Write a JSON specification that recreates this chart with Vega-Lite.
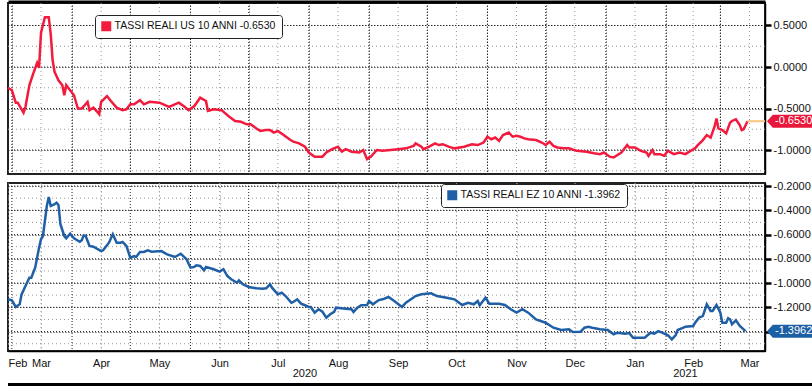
{
  "$schema": "https://vega.github.io/schema/vega-lite/v6.json",
  "padding": {"left": 2, "top": 0, "right": 0, "bottom": 0},
  "spacing": 3,
  "background": "white",
  "resolve": {"scale": {"color": "independent"}, "legend": {"color": "independent"}},
  "config": {
    "font": "Liberation Sans",
    "view": {"stroke": null},
    "axis": {"labelFont": "Liberation Sans", "labelFontSize": 11, "labelColor": "#111"}
  },
  "datasets": {
    "ms": [{"d": "2020-03-01"}, {"d": "2020-04-01"}, {"d": "2020-05-01"}, {"d": "2020-06-01"}, {"d": "2020-07-01"}, {"d": "2020-08-01"}, {"d": "2020-09-01"}, {"d": "2020-10-01"}, {"d": "2020-11-01"}, {"d": "2020-12-01"}, {"d": "2021-01-01"}, {"d": "2021-02-01"}, {"d": "2021-03-01"}],
    "mm": [{"d": "2020-03-16"}, {"d": "2020-04-16"}, {"d": "2020-05-16"}, {"d": "2020-06-16"}, {"d": "2020-07-16"}, {"d": "2020-08-16"}, {"d": "2020-09-16"}, {"d": "2020-10-16"}, {"d": "2020-11-16"}, {"d": "2020-12-16"}, {"d": "2021-01-16"}, {"d": "2021-02-15"}, {"d": "2021-03-16"}],
    "usg": [{"g": 0.5}, {"g": 0}, {"g": -0.5}, {"g": -1}],
    "usm": [{"g": 0.25}, {"g": -0.25}, {"g": -0.75}, {"g": -1.25}],
    "ezg": [{"g": -0.2}, {"g": -0.4}, {"g": -0.6}, {"g": -0.8}, {"g": -1.0}, {"g": -1.2}, {"g": -1.4}],
    "ezm": [{"g": -0.3}, {"g": -0.5}, {"g": -0.7}, {"g": -0.9}, {"g": -1.1}, {"g": -1.3}, {"g": -1.5}],
    "years": [{"date": "2020-07-30", "label": "2020"}, {"date": "2021-02-11", "label": "2021"}],
    "us": [
      {"date": "2020-02-28", "v": -0.25}, {"date": "2020-03-01", "v": -0.28}, {"date": "2020-03-03", "v": -0.43}, {"date": "2020-03-04", "v": -0.43},
      {"date": "2020-03-07", "v": -0.55}, {"date": "2020-03-08", "v": -0.48}, {"date": "2020-03-10", "v": -0.22}, {"date": "2020-03-12", "v": -0.08},
      {"date": "2020-03-14", "v": 0.05}, {"date": "2020-03-15", "v": -0.01}, {"date": "2020-03-16", "v": 0.41}, {"date": "2020-03-18", "v": 0.60},
      {"date": "2020-03-20", "v": 0.60}, {"date": "2020-03-21", "v": 0.40}, {"date": "2020-03-22", "v": 0.08}, {"date": "2020-03-23", "v": -0.06},
      {"date": "2020-03-25", "v": -0.16}, {"date": "2020-03-27", "v": -0.22}, {"date": "2020-03-28", "v": -0.34}, {"date": "2020-03-29", "v": -0.22},
      {"date": "2020-03-31", "v": -0.28}, {"date": "2020-04-02", "v": -0.34}, {"date": "2020-04-04", "v": -0.50}, {"date": "2020-04-06", "v": -0.50},
      {"date": "2020-04-09", "v": -0.42}, {"date": "2020-04-10", "v": -0.52}, {"date": "2020-04-12", "v": -0.49}, {"date": "2020-04-14", "v": -0.54},
      {"date": "2020-04-15", "v": -0.57}, {"date": "2020-04-16", "v": -0.42}, {"date": "2020-04-19", "v": -0.35}, {"date": "2020-04-21", "v": -0.41},
      {"date": "2020-04-24", "v": -0.49}, {"date": "2020-04-27", "v": -0.52}, {"date": "2020-04-29", "v": -0.51}, {"date": "2020-05-01", "v": -0.45},
      {"date": "2020-05-03", "v": -0.45}, {"date": "2020-05-06", "v": -0.40}, {"date": "2020-05-08", "v": -0.45}, {"date": "2020-05-11", "v": -0.42},
      {"date": "2020-05-16", "v": -0.43}, {"date": "2020-05-21", "v": -0.48}, {"date": "2020-05-26", "v": -0.43}, {"date": "2020-05-29", "v": -0.48},
      {"date": "2020-05-31", "v": -0.52}, {"date": "2020-06-03", "v": -0.47}, {"date": "2020-06-06", "v": -0.37}, {"date": "2020-06-09", "v": -0.41},
      {"date": "2020-06-10", "v": -0.53}, {"date": "2020-06-13", "v": -0.51}, {"date": "2020-06-17", "v": -0.52}, {"date": "2020-06-21", "v": -0.60},
      {"date": "2020-06-24", "v": -0.65}, {"date": "2020-06-27", "v": -0.66}, {"date": "2020-06-30", "v": -0.69}, {"date": "2020-07-02", "v": -0.69},
      {"date": "2020-07-05", "v": -0.74}, {"date": "2020-07-07", "v": -0.77}, {"date": "2020-07-10", "v": -0.76}, {"date": "2020-07-12", "v": -0.76},
      {"date": "2020-07-14", "v": -0.79}, {"date": "2020-07-16", "v": -0.77}, {"date": "2020-07-19", "v": -0.82}, {"date": "2020-07-22", "v": -0.87},
      {"date": "2020-07-24", "v": -0.90}, {"date": "2020-07-27", "v": -0.92}, {"date": "2020-07-30", "v": -0.96}, {"date": "2020-08-01", "v": -1.03},
      {"date": "2020-08-04", "v": -1.08}, {"date": "2020-08-08", "v": -1.08}, {"date": "2020-08-10", "v": -1.03}, {"date": "2020-08-13", "v": -0.99},
      {"date": "2020-08-16", "v": -0.96}, {"date": "2020-08-18", "v": -1.02}, {"date": "2020-08-20", "v": -0.99}, {"date": "2020-08-23", "v": -1.02},
      {"date": "2020-08-27", "v": -1.03}, {"date": "2020-08-29", "v": -1.00}, {"date": "2020-08-31", "v": -1.11}, {"date": "2020-09-02", "v": -1.08},
      {"date": "2020-09-05", "v": -1.00}, {"date": "2020-09-08", "v": -1.01}, {"date": "2020-09-12", "v": -1.00}, {"date": "2020-09-16", "v": -0.99},
      {"date": "2020-09-20", "v": -0.98}, {"date": "2020-09-24", "v": -0.95}, {"date": "2020-09-25", "v": -0.92}, {"date": "2020-09-28", "v": -0.96},
      {"date": "2020-09-29", "v": -0.99}, {"date": "2020-10-02", "v": -0.96}, {"date": "2020-10-05", "v": -0.92}, {"date": "2020-10-07", "v": -0.94},
      {"date": "2020-10-09", "v": -0.93}, {"date": "2020-10-12", "v": -0.96}, {"date": "2020-10-15", "v": -0.98}, {"date": "2020-10-20", "v": -0.96},
      {"date": "2020-10-24", "v": -0.93}, {"date": "2020-10-27", "v": -0.94}, {"date": "2020-10-30", "v": -0.91}, {"date": "2020-11-01", "v": -0.84},
      {"date": "2020-11-03", "v": -0.87}, {"date": "2020-11-05", "v": -0.85}, {"date": "2020-11-07", "v": -0.89}, {"date": "2020-11-09", "v": -0.82},
      {"date": "2020-11-12", "v": -0.79}, {"date": "2020-11-14", "v": -0.84}, {"date": "2020-11-16", "v": -0.83}, {"date": "2020-11-18", "v": -0.84},
      {"date": "2020-11-20", "v": -0.86}, {"date": "2020-11-22", "v": -0.87}, {"date": "2020-11-26", "v": -0.88}, {"date": "2020-11-29", "v": -0.91},
      {"date": "2020-12-01", "v": -0.94}, {"date": "2020-12-03", "v": -0.90}, {"date": "2020-12-05", "v": -0.95}, {"date": "2020-12-07", "v": -0.97},
      {"date": "2020-12-10", "v": -0.98}, {"date": "2020-12-13", "v": -0.98}, {"date": "2020-12-17", "v": -1.01}, {"date": "2020-12-22", "v": -1.02},
      {"date": "2020-12-26", "v": -1.04}, {"date": "2020-12-29", "v": -1.05}, {"date": "2020-12-31", "v": -1.03}, {"date": "2021-01-03", "v": -1.08},
      {"date": "2021-01-05", "v": -1.09}, {"date": "2021-01-09", "v": -1.03}, {"date": "2021-01-12", "v": -0.94}, {"date": "2021-01-13", "v": -0.97},
      {"date": "2021-01-16", "v": -0.97}, {"date": "2021-01-19", "v": -1.01}, {"date": "2021-01-22", "v": -1.03}, {"date": "2021-01-23", "v": -1.07},
      {"date": "2021-01-25", "v": -1.00}, {"date": "2021-01-26", "v": -1.05}, {"date": "2021-01-29", "v": -1.05}, {"date": "2021-01-31", "v": -1.07},
      {"date": "2021-02-02", "v": -1.01}, {"date": "2021-02-05", "v": -1.05}, {"date": "2021-02-08", "v": -1.03}, {"date": "2021-02-11", "v": -1.05},
      {"date": "2021-02-13", "v": -1.02}, {"date": "2021-02-16", "v": -0.98}, {"date": "2021-02-17", "v": -0.95}, {"date": "2021-02-20", "v": -0.88},
      {"date": "2021-02-22", "v": -0.82}, {"date": "2021-02-24", "v": -0.85}, {"date": "2021-02-26", "v": -0.72}, {"date": "2021-02-27", "v": -0.62},
      {"date": "2021-02-28", "v": -0.74}, {"date": "2021-03-02", "v": -0.76}, {"date": "2021-03-04", "v": -0.80}, {"date": "2021-03-06", "v": -0.67},
      {"date": "2021-03-07", "v": -0.65}, {"date": "2021-03-09", "v": -0.63}, {"date": "2021-03-11", "v": -0.70}, {"date": "2021-03-12", "v": -0.76},
      {"date": "2021-03-13", "v": -0.75}, {"date": "2021-03-15", "v": -0.653}
    ],
    "uslast": [{"date": "2021-03-15", "v": -0.653, "label": "-0.6530"}],
    "ez": [
      {"date": "2020-02-28", "v": -1.134}, {"date": "2020-03-01", "v": -1.142}, {"date": "2020-03-03", "v": -1.197}, {"date": "2020-03-05", "v": -1.175},
      {"date": "2020-03-06", "v": -1.093}, {"date": "2020-03-08", "v": -1.024}, {"date": "2020-03-10", "v": -0.956}, {"date": "2020-03-11", "v": -0.956},
      {"date": "2020-03-13", "v": -0.873}, {"date": "2020-03-15", "v": -0.708}, {"date": "2020-03-16", "v": -0.639}, {"date": "2020-03-17", "v": -0.612},
      {"date": "2020-03-19", "v": -0.365}, {"date": "2020-03-20", "v": -0.29}, {"date": "2020-03-21", "v": -0.365}, {"date": "2020-03-23", "v": -0.35},
      {"date": "2020-03-24", "v": -0.337}, {"date": "2020-03-25", "v": -0.356}, {"date": "2020-03-26", "v": -0.515}, {"date": "2020-03-28", "v": -0.612},
      {"date": "2020-03-29", "v": -0.631}, {"date": "2020-03-31", "v": -0.593}, {"date": "2020-04-02", "v": -0.631}, {"date": "2020-04-05", "v": -0.659},
      {"date": "2020-04-06", "v": -0.647}, {"date": "2020-04-07", "v": -0.606}, {"date": "2020-04-08", "v": -0.612}, {"date": "2020-04-10", "v": -0.694},
      {"date": "2020-04-12", "v": -0.700}, {"date": "2020-04-16", "v": -0.736}, {"date": "2020-04-17", "v": -0.730}, {"date": "2020-04-20", "v": -0.667},
      {"date": "2020-04-22", "v": -0.598}, {"date": "2020-04-24", "v": -0.667}, {"date": "2020-04-26", "v": -0.667}, {"date": "2020-04-27", "v": -0.661},
      {"date": "2020-04-29", "v": -0.694}, {"date": "2020-05-01", "v": -0.791}, {"date": "2020-05-03", "v": -0.777}, {"date": "2020-05-04", "v": -0.785},
      {"date": "2020-05-06", "v": -0.744}, {"date": "2020-05-08", "v": -0.744}, {"date": "2020-05-10", "v": -0.730}, {"date": "2020-05-12", "v": -0.741},
      {"date": "2020-05-17", "v": -0.736}, {"date": "2020-05-20", "v": -0.763}, {"date": "2020-05-24", "v": -0.785}, {"date": "2020-05-27", "v": -0.758},
      {"date": "2020-05-30", "v": -0.804}, {"date": "2020-06-01", "v": -0.873}, {"date": "2020-06-03", "v": -0.867}, {"date": "2020-06-04", "v": -0.853},
      {"date": "2020-06-06", "v": -0.859}, {"date": "2020-06-08", "v": -0.895}, {"date": "2020-06-09", "v": -0.867}, {"date": "2020-06-13", "v": -0.886},
      {"date": "2020-06-16", "v": -0.906}, {"date": "2020-06-18", "v": -0.886}, {"date": "2020-06-20", "v": -0.942}, {"date": "2020-06-22", "v": -0.969},
      {"date": "2020-06-25", "v": -0.997}, {"date": "2020-06-26", "v": -0.977}, {"date": "2020-06-28", "v": -1.010}, {"date": "2020-07-01", "v": -1.032},
      {"date": "2020-07-05", "v": -1.043}, {"date": "2020-07-08", "v": -1.046}, {"date": "2020-07-10", "v": -1.043}, {"date": "2020-07-12", "v": -1.010},
      {"date": "2020-07-13", "v": -1.038}, {"date": "2020-07-16", "v": -1.093}, {"date": "2020-07-18", "v": -1.079}, {"date": "2020-07-20", "v": -1.107},
      {"date": "2020-07-23", "v": -1.162}, {"date": "2020-07-24", "v": -1.156}, {"date": "2020-07-26", "v": -1.134}, {"date": "2020-07-28", "v": -1.170},
      {"date": "2020-07-30", "v": -1.183}, {"date": "2020-08-01", "v": -1.197}, {"date": "2020-08-02", "v": -1.197}, {"date": "2020-08-04", "v": -1.244},
      {"date": "2020-08-06", "v": -1.216}, {"date": "2020-08-08", "v": -1.236}, {"date": "2020-08-10", "v": -1.285}, {"date": "2020-08-12", "v": -1.257},
      {"date": "2020-08-14", "v": -1.238}, {"date": "2020-08-15", "v": -1.203}, {"date": "2020-08-20", "v": -1.211}, {"date": "2020-08-23", "v": -1.216},
      {"date": "2020-08-24", "v": -1.238}, {"date": "2020-08-26", "v": -1.203}, {"date": "2020-08-28", "v": -1.183}, {"date": "2020-08-31", "v": -1.181},
      {"date": "2020-09-01", "v": -1.148}, {"date": "2020-09-03", "v": -1.175}, {"date": "2020-09-06", "v": -1.140}, {"date": "2020-09-08", "v": -1.134},
      {"date": "2020-09-11", "v": -1.115}, {"date": "2020-09-14", "v": -1.148}, {"date": "2020-09-18", "v": -1.197}, {"date": "2020-09-20", "v": -1.162},
      {"date": "2020-09-25", "v": -1.107}, {"date": "2020-09-28", "v": -1.093}, {"date": "2020-10-03", "v": -1.084}, {"date": "2020-10-06", "v": -1.107},
      {"date": "2020-10-11", "v": -1.121}, {"date": "2020-10-15", "v": -1.134}, {"date": "2020-10-19", "v": -1.181}, {"date": "2020-10-22", "v": -1.162},
      {"date": "2020-10-25", "v": -1.175}, {"date": "2020-10-27", "v": -1.148}, {"date": "2020-10-28", "v": -1.183}, {"date": "2020-10-30", "v": -1.142},
      {"date": "2020-10-31", "v": -1.121}, {"date": "2020-11-02", "v": -1.170}, {"date": "2020-11-07", "v": -1.170}, {"date": "2020-11-10", "v": -1.181},
      {"date": "2020-11-13", "v": -1.216}, {"date": "2020-11-16", "v": -1.244}, {"date": "2020-11-19", "v": -1.216}, {"date": "2020-11-22", "v": -1.244},
      {"date": "2020-11-26", "v": -1.299}, {"date": "2020-12-01", "v": -1.327}, {"date": "2020-12-05", "v": -1.368}, {"date": "2020-12-09", "v": -1.387},
      {"date": "2020-12-13", "v": -1.381}, {"date": "2020-12-15", "v": -1.403}, {"date": "2020-12-19", "v": -1.401}, {"date": "2020-12-21", "v": -1.368},
      {"date": "2020-12-23", "v": -1.360}, {"date": "2020-12-25", "v": -1.368}, {"date": "2020-12-29", "v": -1.381}, {"date": "2021-01-02", "v": -1.387},
      {"date": "2021-01-05", "v": -1.422}, {"date": "2021-01-07", "v": -1.409}, {"date": "2021-01-11", "v": -1.417}, {"date": "2021-01-13", "v": -1.412},
      {"date": "2021-01-15", "v": -1.450}, {"date": "2021-01-19", "v": -1.450}, {"date": "2021-01-21", "v": -1.450}, {"date": "2021-01-24", "v": -1.409},
      {"date": "2021-01-26", "v": -1.417}, {"date": "2021-01-28", "v": -1.396}, {"date": "2021-01-30", "v": -1.409}, {"date": "2021-02-02", "v": -1.430},
      {"date": "2021-02-04", "v": -1.464}, {"date": "2021-02-06", "v": -1.428}, {"date": "2021-02-07", "v": -1.387}, {"date": "2021-02-10", "v": -1.368},
      {"date": "2021-02-11", "v": -1.360}, {"date": "2021-02-15", "v": -1.354}, {"date": "2021-02-16", "v": -1.327}, {"date": "2021-02-18", "v": -1.285},
      {"date": "2021-02-20", "v": -1.271}, {"date": "2021-02-22", "v": -1.175}, {"date": "2021-02-24", "v": -1.230}, {"date": "2021-02-25", "v": -1.230},
      {"date": "2021-02-27", "v": -1.181}, {"date": "2021-03-01", "v": -1.244}, {"date": "2021-03-02", "v": -1.327}, {"date": "2021-03-04", "v": -1.327},
      {"date": "2021-03-05", "v": -1.290}, {"date": "2021-03-06", "v": -1.299}, {"date": "2021-03-07", "v": -1.340}, {"date": "2021-03-09", "v": -1.307},
      {"date": "2021-03-11", "v": -1.354}, {"date": "2021-03-14", "v": -1.3962}
    ],
    "ezlast": [{"date": "2021-03-14", "v": -1.3962, "label": "-1.3962"}],
    "band": [{"k": 1}]
  },
  "vconcat": [
    {
      "width": 757,
      "height": 171,
      "view": {"stroke": "#222222", "strokeWidth": 2},
      "layer": [
        {"data": {"name": "mm"}, "mark": {"type": "rule", "color": "#999999", "strokeDash": [1, 3], "strokeWidth": 1},
          "encoding": {"x": {"field": "d", "type": "temporal"}, "y": {"datum": 0.771, "type": "quantitative"}, "y2": {"datum": -1.289}}},
        {"data": {"name": "usm"}, "mark": {"type": "rule", "color": "#999999", "strokeDash": [1, 3], "strokeWidth": 1},
          "encoding": {"y": {"field": "g", "type": "quantitative"}, "x": {"datum": {"year": 2020, "month": 2, "date": 28, "utc": true}, "type": "temporal"}, "x2": {"datum": {"year": 2021, "month": 3, "date": 24, "utc": true}}}},
        {"data": {"name": "ms"}, "mark": {"type": "rule", "color": "#222222", "strokeDash": [1, 2], "strokeWidth": 1},
          "encoding": {"x": {"field": "d", "type": "temporal"}, "y": {"datum": 0.771, "type": "quantitative"}, "y2": {"datum": -1.289}}},
        {"data": {"name": "usg"}, "mark": {"type": "rule", "color": "#222222", "strokeDash": [1, 2], "strokeWidth": 1},
          "encoding": {"y": {"field": "g", "type": "quantitative"}, "x": {"datum": {"year": 2020, "month": 2, "date": 28, "utc": true}, "type": "temporal"}, "x2": {"datum": {"year": 2021, "month": 3, "date": 24, "utc": true}}}},
        {
          "data": {"name": "us"},
          "mark": {"type": "line", "color": "#f21a3d", "strokeWidth": 2.5},
          "encoding": {
            "x": {"field": "date", "type": "temporal",
              "scale": {"type": "utc", "domain": [{"year": 2020, "month": 2, "date": 28, "utc": true}, {"year": 2021, "month": 3, "date": 24, "utc": true}]},
              "axis": {"orient": "top", "title": null, "labels": false, "ticks": false, "domain": true, "domainColor": "black", "domainWidth": 3, "offset": 1.5,
                "grid": true, "gridColor": "#333333", "gridDash": [1, 2], "gridWidth": 1,
                "values": [{"year": 2020, "month": 3, "date": 1, "utc": true}, {"year": 2020, "month": 4, "date": 1, "utc": true}, {"year": 2020, "month": 5, "date": 1, "utc": true}, {"year": 2020, "month": 6, "date": 1, "utc": true}, {"year": 2020, "month": 7, "date": 1, "utc": true}, {"year": 2020, "month": 8, "date": 1, "utc": true}, {"year": 2020, "month": 9, "date": 1, "utc": true}, {"year": 2020, "month": 10, "date": 1, "utc": true}, {"year": 2020, "month": 11, "date": 1, "utc": true}, {"year": 2020, "month": 12, "date": 1, "utc": true}, {"year": 2021, "month": 1, "date": 1, "utc": true}, {"year": 2021, "month": 2, "date": 1, "utc": true}, {"year": 2021, "month": 3, "date": 1, "utc": true}]}},
            "y": {"field": "v", "type": "quantitative",
              "scale": {"domain": [-1.289, 0.771], "nice": false, "zero": false},
              "axis": {"orient": "right", "title": null, "values": [0.5, 0, -0.5, -1], "tickCount": 4, "labelOverlap": false, "labelExpr": "replace(format(datum.value, '.4f'), '\u2212', '-')", "tickSize": 6, "tickWidth": 2.5, "tickColor": "black", "labelPadding": 2, "domain": true, "domainColor": "black", "domainWidth": 1.5, "grid": true, "gridColor": "#333333", "gridDash": [1, 2], "gridWidth": 1}}
          }
        },
        {
          "data": {"name": "uslast"},
          "mark": {"type": "rule", "color": "#f9c47f", "strokeWidth": 2},
          "encoding": {
            "x": {"field": "date", "type": "temporal"},
            "x2": {"datum": {"year": 2021, "month": 3, "date": 24, "utc": true}},
            "y": {"field": "v", "type": "quantitative"}
          }
        },
        {
          "data": {"name": "uslast"},
          "mark": {"type": "point", "shape": "M0.3,0L1.2,-1L7.4,-1L7.4,1L1.2,1Z", "filled": true, "size": 169, "color": "#e8173b", "opacity": 1, "strokeWidth": 0},
          "encoding": {
            "x": {"datum": {"year": 2021, "month": 3, "date": 24, "utc": true}, "type": "temporal"},
            "y": {"field": "v", "type": "quantitative"}
          }
        },
        {
          "data": {"name": "uslast"},
          "mark": {"type": "text", "align": "left", "baseline": "middle", "dx": 10, "color": "white", "fontSize": 11, "font": "Liberation Sans"},
          "encoding": {
            "x": {"datum": {"year": 2021, "month": 3, "date": 24, "utc": true}, "type": "temporal"},
            "y": {"field": "v", "type": "quantitative"},
            "text": {"field": "label"}
          }
        },
        {
          "data": {"values": []},
          "mark": {"type": "square", "filled": true, "opacity": 1},
          "encoding": {
            "color": {"datum": "TASSI REALI US 10 ANNI -0.6530", "type": "nominal", "scale": {"range": ["#f21a3d"]},
              "legend": {"orient": "none", "legendX": 87, "legendY": 12, "title": null, "symbolType": "square", "symbolSize": 100, "symbolStrokeWidth": 0, "labelFontSize": 10.5, "labelFont": "Liberation Sans", "labelColor": "#111", "labelLimit": 400, "labelOffset": 3, "padding": 6, "strokeColor": "#222", "fillColor": "white", "cornerRadius": 3}}
          }
        }
      ]
    },
    {
      "width": 757,
      "height": 168,
      "view": {"stroke": "#222222", "strokeWidth": 2},
      "layer": [
        {"data": {"name": "mm"}, "mark": {"type": "rule", "color": "#999999", "strokeDash": [1, 3], "strokeWidth": 1},
          "encoding": {"x": {"field": "d", "type": "temporal"}, "y": {"datum": -0.175, "type": "quantitative"}, "y2": {"datum": -1.56}}},
        {"data": {"name": "ezm"}, "mark": {"type": "rule", "color": "#999999", "strokeDash": [1, 3], "strokeWidth": 1},
          "encoding": {"y": {"field": "g", "type": "quantitative"}, "x": {"datum": {"year": 2020, "month": 2, "date": 28, "utc": true}, "type": "temporal"}, "x2": {"datum": {"year": 2021, "month": 3, "date": 24, "utc": true}}}},
        {"data": {"name": "ms"}, "mark": {"type": "rule", "color": "#222222", "strokeDash": [1, 2], "strokeWidth": 1},
          "encoding": {"x": {"field": "d", "type": "temporal"}, "y": {"datum": -0.175, "type": "quantitative"}, "y2": {"datum": -1.56}}},
        {"data": {"name": "ezg"}, "mark": {"type": "rule", "color": "#222222", "strokeDash": [1, 2], "strokeWidth": 1},
          "encoding": {"y": {"field": "g", "type": "quantitative"}, "x": {"datum": {"year": 2020, "month": 2, "date": 28, "utc": true}, "type": "temporal"}, "x2": {"datum": {"year": 2021, "month": 3, "date": 24, "utc": true}}}},
        {
          "data": {"name": "ez"},
          "mark": {"type": "line", "color": "#1f5fa6", "strokeWidth": 2.5},
          "encoding": {
            "x": {"field": "date", "type": "temporal",
              "scale": {"type": "utc", "domain": [{"year": 2020, "month": 2, "date": 28, "utc": true}, {"year": 2021, "month": 3, "date": 24, "utc": true}]},
              "axis": {"orient": "bottom", "title": null, "format": "%b", "labels": true, "labelPadding": 6, "labelFontSize": 11, "labelOverlap": false,
                "labelAlign": {"condition": {"test": "utcyear(datum.value) == 2020 && utcmonth(datum.value) == 1", "value": "left"}, "value": "center"},
                "ticks": false, "domain": true, "domainColor": "black", "domainWidth": 1.5,
                "grid": true, "gridColor": "#999999", "gridDash": [1, 3], "gridWidth": 1,
                "values": [{"year": 2020, "month": 2, "date": 28, "utc": true}, {"year": 2020, "month": 3, "date": 16, "utc": true}, {"year": 2020, "month": 4, "date": 16, "utc": true}, {"year": 2020, "month": 5, "date": 16, "utc": true}, {"year": 2020, "month": 6, "date": 16, "utc": true}, {"year": 2020, "month": 7, "date": 16, "utc": true}, {"year": 2020, "month": 8, "date": 16, "utc": true}, {"year": 2020, "month": 9, "date": 16, "utc": true}, {"year": 2020, "month": 10, "date": 16, "utc": true}, {"year": 2020, "month": 11, "date": 16, "utc": true}, {"year": 2020, "month": 12, "date": 16, "utc": true}, {"year": 2021, "month": 1, "date": 16, "utc": true}, {"year": 2021, "month": 2, "date": 15, "utc": true}, {"year": 2021, "month": 3, "date": 16, "utc": true}]}},
            "y": {"field": "v", "type": "quantitative",
              "scale": {"domain": [-1.56, -0.175], "nice": false, "zero": false},
              "axis": {"orient": "right", "title": null, "values": [-0.2, -0.4, -0.6, -0.8, -1.0, -1.2, -1.4], "tickCount": 7, "labelOverlap": false, "labelExpr": "datum.value < -1.3 ? '' : replace(format(datum.value, '.4f'), '\u2212', '-')", "tickSize": 6, "tickWidth": 2.5, "tickColor": "black", "labelPadding": 2, "domain": true, "domainColor": "black", "domainWidth": 1.5, "grid": true, "gridColor": "#333333", "gridDash": [1, 2], "gridWidth": 1}}
          }
        },
        {
          "data": {"name": "years"},
          "mark": {"type": "text", "align": "center", "baseline": "middle", "dy": 23, "color": "#111", "fontSize": 11, "font": "Liberation Sans"},
          "encoding": {
            "x": {"field": "date", "type": "temporal"},
            "y": {"datum": -1.56, "type": "quantitative"},
            "text": {"field": "label"}
          }
        },
        {
          "data": {"name": "ezlast"},
          "mark": {"type": "point", "shape": "M0.3,0L1.2,-1L7.4,-1L7.4,1L1.2,1Z", "filled": true, "size": 169, "color": "#1d5fa5", "opacity": 1, "strokeWidth": 0},
          "encoding": {
            "x": {"datum": {"year": 2021, "month": 3, "date": 24, "utc": true}, "type": "temporal"},
            "y": {"field": "v", "type": "quantitative"}
          }
        },
        {
          "data": {"name": "ezlast"},
          "mark": {"type": "text", "align": "left", "baseline": "middle", "dx": 10, "color": "white", "fontSize": 11, "font": "Liberation Sans"},
          "encoding": {
            "x": {"datum": {"year": 2021, "month": 3, "date": 24, "utc": true}, "type": "temporal"},
            "y": {"field": "v", "type": "quantitative"},
            "text": {"field": "label"}
          }
        },
        {
          "data": {"values": []},
          "mark": {"type": "square", "filled": true, "opacity": 1},
          "encoding": {
            "color": {"datum": "TASSI REALI EZ 10 ANNI -1.3962", "type": "nominal", "scale": {"range": ["#1f5fa6"]},
              "legend": {"orient": "none", "legendX": 433, "legendY": 1, "title": null, "symbolType": "square", "symbolSize": 100, "symbolStrokeWidth": 0, "labelFontSize": 10.5, "labelFont": "Liberation Sans", "labelColor": "#111", "labelLimit": 400, "labelOffset": 3, "padding": 6, "strokeColor": "#222", "fillColor": "white", "cornerRadius": 3}}
          }
        }
      ]
    },
    {
      "width": 810,
      "height": 10,
      "view": {"fill": "black", "stroke": null},
      "data": {"name": "band"},
      "mark": {"type": "point", "opacity": 0, "size": 0},
      "encoding": {}
    }
  ]
}
